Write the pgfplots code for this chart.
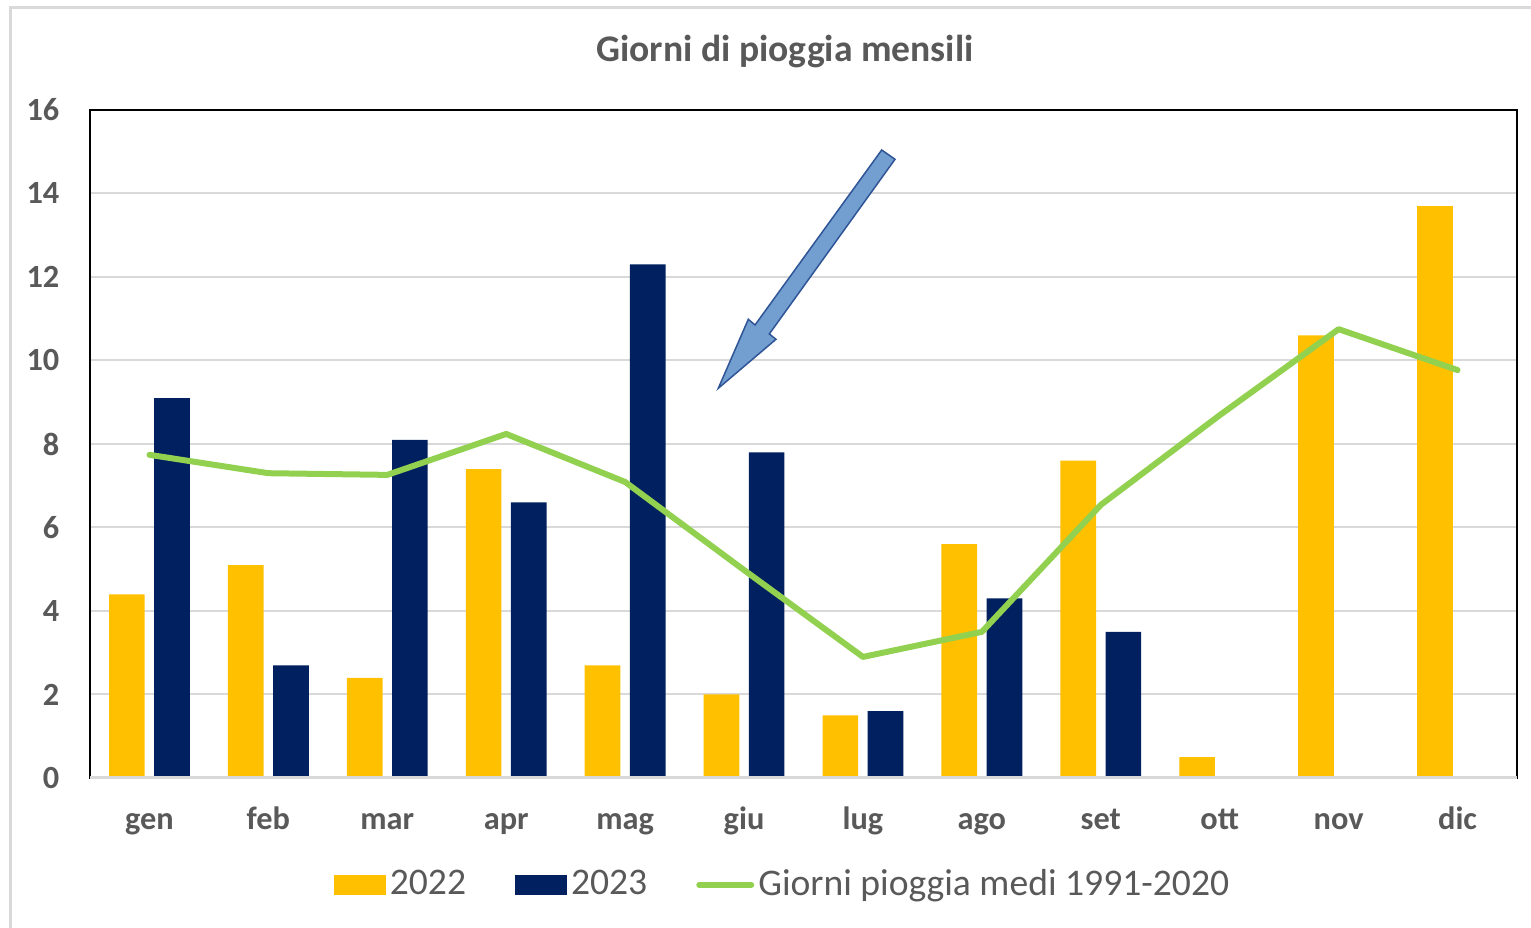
\documentclass[border=0pt]{standalone}
\usepackage{fontspec}
\setmainfont{Carlito}
\usepackage{pgfplots}
\pgfplotsset{compat=1.18}
\definecolor{y22}{HTML}{FFC000}
\definecolor{y23}{HTML}{002060}
\definecolor{media}{HTML}{92D050}
\definecolor{gridc}{HTML}{D9D9D9}
\definecolor{textc}{HTML}{595959}
\definecolor{arrfill}{RGB}{114,159,207}
\definecolor{arredge}{RGB}{47,85,151}

\begin{document}
\begin{tikzpicture}
\path[use as bounding box] (0,0) rectangle (15.31,9.28);
% bordo area grafico
\draw[gridc, line width=0.03cm] (0.10,0) -- (0.10,9.20) -- (15.31,9.20);
\node[font=\bfseries\fontsize{10.7}{12}\selectfont, text=textc] at (7.85,8.76) {Giorni di pioggia mensili};

\begin{axis}[
  at={(0.90cm,1.50cm)}, anchor=south west,
  scale only axis, width=14.27cm, height=6.68cm,
  xmin=-0.5, xmax=11.5, ymin=0, ymax=16,
  ytick={0,2,...,16},
  xtick={0,...,11},
  xticklabels={gen,feb,mar,apr,mag,giu,lug,ago,set,ott,nov,dic},
  major tick length=0pt,
  ymajorgrids, grid style={gridc, line width=0.02cm},
  axis line style={black, line width=0.025cm},
  tick label style={font=\bfseries\fontsize{9.2}{10}\selectfont, text=textc},
  /pgf/number format/assume math mode=true,
  yticklabel style={anchor=east, inner sep=0pt, xshift=-0.3cm},
  xticklabel style={anchor=base, inner sep=0pt, yshift=-0.52cm},
  legend columns=3,
  legend style={draw=none, fill=none, at={(0.486,-0.16)}, anchor=center,
    font=\fontsize{10.7}{12}\selectfont, text=textc,
    /tikz/every even column/.append style={column sep=0.45cm},
    nodes={inner sep=0.04cm}},
  legend cell align=left,
  clip=false,
]
  \addplot[ybar, bar width=0.3, bar shift=-0.19, fill=y22, draw=none,
    legend image code/.code={\fill[y22] (0cm,-0.1cm) rectangle (0.52cm,0.1cm);}]
    coordinates {(0,4.4)(1,5.1)(2,2.4)(3,7.4)(4,2.7)(5,2.0)(6,1.5)(7,5.6)(8,7.6)(9,0.5)(10,10.6)(11,13.7)};
  \addplot[ybar, bar width=0.3, bar shift=0.19, fill=y23, draw=none,
    legend image code/.code={\fill[y23] (0cm,-0.1cm) rectangle (0.52cm,0.1cm);}]
    coordinates {(0,9.1)(1,2.7)(2,8.1)(3,6.6)(4,12.3)(5,7.8)(6,1.6)(7,4.3)(8,3.5)};
  \addplot[media, line width=0.06cm, line join=round, line cap=round, mark=none,
    legend image code/.code={\draw[media, line width=0.06cm, line cap=round] (0cm,0cm) -- (0.52cm,0cm);}]
    coordinates {(0,7.74)(1,7.3)(2,7.26)(3,8.24)(4,7.09)(5,4.98)(6,2.9)(7,3.5)(8,6.54)(9,8.69)(10,10.75)(11,9.77)};
  \legend{2022,2023,Giorni pioggia medi 1991-2020}
  \draw[gridc, line width=0.03cm] (axis cs:-0.5,0) -- (axis cs:11.5,0);
\end{axis}

% freccia
\draw[fill=arrfill, draw=arredge, line width=0.015cm, line join=miter]
  (8.817,7.78) -- (8.95,7.687) -- (7.693,5.94) -- (7.76,5.887) -- (7.183,5.397)
  -- (7.483,6.087) -- (7.55,6.03) -- cycle;
\end{tikzpicture}
\end{document}
